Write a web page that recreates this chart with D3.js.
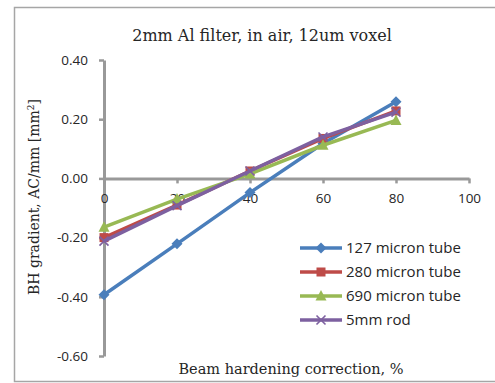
<!DOCTYPE html>
<html>
<head>
<meta charset="utf-8">
<script src="https://cdn.jsdelivr.net/npm/d3@7"></script>
<style>
  html, body { margin: 0; padding: 0; background: #fff; }
  svg { display: block; }
</style>
</head>
<body>
<svg id="chart" width="495" height="383"></svg>
<script>
// Beam hardening correction levels (%)
const corrections = [0, 20, 40, 60, 80];

// BH gradient values per sample
const tube127 = [-0.393, -0.221, -0.048, 0.118, 0.259];
const tube280 = [-0.200, -0.090, 0.025, 0.135, 0.228];
const tube690 = [-0.165, -0.070, 0.015, 0.112, 0.196];
const rod5mm  = [-0.212, -0.092, 0.025, 0.140, 0.224];

const seriesNames = ["127 micron tube", "280 micron tube", "690 micron tube", "5mm rod"];
const seriesColors = ["#4a7ebb", "#be4b48", "#98b954", "#7d60a0"];
const seriesMarkers = ["diamond", "square", "triangle", "cross"];

const xTicks = [0, 20, 40, 60, 80, 100];
const yTicks = [-0.6, -0.4, -0.2, 0.0, 0.2, 0.4];

const series = [tube127, tube280, tube690, rod5mm].map((vals, i) => ({
  name: seriesNames[i],
  color: seriesColors[i],
  marker: seriesMarkers[i],
  points: vals.map((v, j) => ({ x: corrections[j], y: v }))
}));

const svg = d3.select("#chart");

// chart area frame
svg.append("rect")
  .attr("x", 14.5).attr("y", 7.5)
  .attr("width", 520).attr("height", 374)
  .attr("fill", "#fff")
  .attr("stroke", "#a6a6a6")
  .attr("stroke-width", 1.5);

const x = d3.scaleLinear().domain([0, 100]).range([104, 469]);
const y = d3.scaleLinear().domain([-0.6, 0.4]).range([356, 60]);

const axisColor = "#999999";
const tickFont = "'Open Sans', 'Noto Sans', sans-serif";
const serifFont = "'DejaVu Serif', 'Liberation Serif', serif";

// y axis
const yAxis = svg.append("g")
  .attr("transform", `translate(${x(0)},0)`)
  .call(d3.axisLeft(y).tickValues(yTicks).tickSize(5).tickSizeOuter(0)
    .tickFormat(d3.format(".2f")));
yAxis.select(".domain").attr("stroke", axisColor).attr("stroke-width", 3);
yAxis.selectAll(".tick line").attr("stroke", axisColor).attr("stroke-width", 2.5);
yAxis.selectAll(".tick text")
  .attr("x", -16)
  .attr("fill", "#262626")
  .style("font-family", tickFont)
  .style("font-size", "13.5px")
  .text(d => d3.format(".2f")(d).replace("−", "-"));

// x axis crossing at zero
const xAxis = svg.append("g")
  .attr("transform", `translate(0,${y(0)})`)
  .call(d3.axisBottom(x).tickValues(xTicks).tickSize(5).tickSizeOuter(0)
    .tickFormat(d3.format("d")));
xAxis.select(".domain").attr("stroke", axisColor).attr("stroke-width", 3);
xAxis.selectAll(".tick line").attr("stroke", axisColor).attr("stroke-width", 2.5);
xAxis.selectAll(".tick text")
  .attr("y", 15)
  .attr("fill", "#262626")
  .style("font-family", tickFont)
  .style("font-size", "13.5px");

// marker shapes
function drawMarker(g, type, color) {
  if (type === "diamond") {
    g.append("path").attr("d", "M0,-5.5L5.5,0L0,5.5L-5.5,0Z").attr("fill", color);
  } else if (type === "square") {
    g.append("rect").attr("x", -4.5).attr("y", -4.5).attr("width", 9).attr("height", 9).attr("fill", color);
  } else if (type === "triangle") {
    g.append("path").attr("d", "M0,-6L5.5,4.5L-5.5,4.5Z").attr("fill", color);
  } else {
    g.append("path").attr("d", "M-4.5,-4.5L4.5,4.5M-4.5,4.5L4.5,-4.5")
      .attr("stroke", color).attr("stroke-width", 1.6).attr("fill", "none");
  }
}

const line = d3.line().x(d => x(d.x)).y(d => y(d.y));

series.forEach(s => {
  svg.append("path")
    .datum(s.points)
    .attr("d", line)
    .attr("fill", "none")
    .attr("stroke", s.color)
    .attr("stroke-width", 3.5)
    .attr("stroke-linejoin", "round");
  s.points.forEach(p => {
    const g = svg.append("g").attr("transform", `translate(${x(p.x)},${y(p.y)})`);
    drawMarker(g, s.marker, s.color);
  });
});

// legend
const legend = svg.append("g");
series.forEach((s, i) => {
  const ly = 248 + i * 24;
  legend.append("line")
    .attr("x1", 300).attr("x2", 342).attr("y1", ly).attr("y2", ly)
    .attr("stroke", s.color).attr("stroke-width", 3.5);
  const g = legend.append("g").attr("transform", `translate(321,${ly})`);
  drawMarker(g, s.marker, s.color);
  legend.append("text")
    .attr("x", 346).attr("y", ly + 5)
    .attr("fill", "#262626")
    .style("font-family", tickFont)
    .style("font-size", "15px")
    .text(s.name);
});

// title
svg.append("text")
  .attr("x", 262).attr("y", 41)
  .attr("text-anchor", "middle")
  .attr("fill", "#262626")
  .style("font-family", serifFont)
  .style("font-size", "16px")
  .text("2mm Al filter, in air, 12um voxel");

// axis titles
svg.append("text")
  .attr("x", 291).attr("y", 374)
  .attr("text-anchor", "middle")
  .attr("fill", "#262626")
  .style("font-family", serifFont)
  .style("font-size", "14.5px")
  .text("Beam hardening correction, %");

const yTitle = svg.append("text")
  .attr("transform", "translate(39,197) rotate(-90)")
  .attr("text-anchor", "middle")
  .attr("fill", "#262626")
  .style("font-family", serifFont)
  .style("font-size", "14px");
yTitle.append("tspan").text("BH gradient, AC/mm [mm");
yTitle.append("tspan").attr("dy", -5).style("font-size", "9px").text("2");
yTitle.append("tspan").attr("dy", 5).text("]");
</script>
</body>
</html>
